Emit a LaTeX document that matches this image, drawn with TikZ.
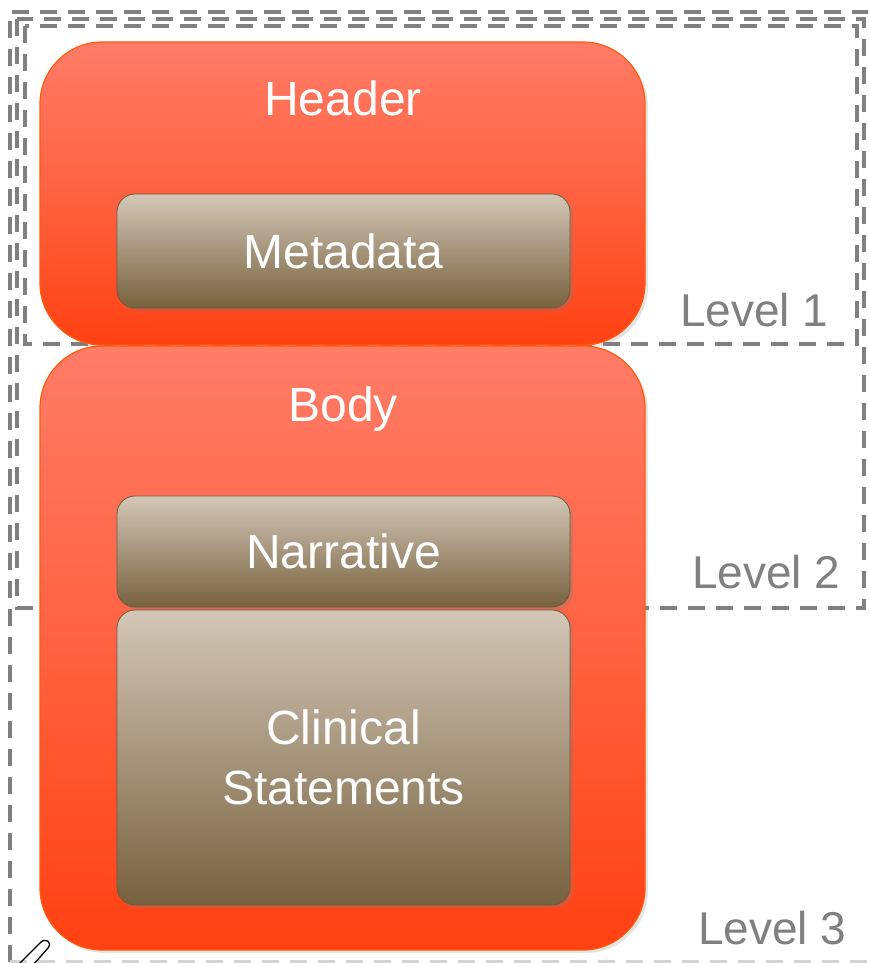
\documentclass[tikz,border=0pt]{standalone}
\usepackage{fontspec}
\setmainfont{Liberation Sans}
\usetikzlibrary{shadows, positioning}
\definecolor{salmon}{HTML}{FF7C67}
\definecolor{redorange}{HTML}{FF4112}
\definecolor{edgeorange}{HTML}{FF5A0A}
\definecolor{sandtop}{HTML}{D4C7B8}
\definecolor{sandbot}{HTML}{77623F}
\definecolor{sandedge}{HTML}{6B5A40}
\definecolor{levelgray}{HTML}{808080}

\begin{document}
\begin{tikzpicture}[x=1pt,y=-1pt,
	outerbox/.style={rounded corners=62pt, top color=salmon, bottom color=redorange, middle color=salmon!55!redorange,
		draw=edgeorange, line width=1.2pt, minimum width=605pt, inner sep=0pt,
		drop shadow={shadow xshift=3pt, shadow yshift=-3pt, opacity=0.22}},
	innerbox/.style={rounded corners=18pt, top color=sandtop, bottom color=sandbot,
		draw=sandedge, line width=0.8pt, minimum width=453pt, inner sep=0pt,
		text=white, align=center, font=\fontsize{48}{60}\selectfont,
		drop shadow={shadow xshift=3pt, shadow yshift=-3pt, opacity=0.3}},
	titletext/.style={text=white, font=\fontsize{48}{50}\selectfont, anchor=base},
	levelbox/.style={draw=levelgray, line width=3.4pt, dash pattern=on 17pt off 11pt},
	levellabel/.style={text=levelgray, font=\fontsize{46}{50}\selectfont, anchor=base east}
	]
	% Fix the page to the size of the picture
	\useasboundingbox (0,0) rectangle (868,963);
	\clip (0,0) rectangle (868,963);
	
	% Dashed frames for the three levels
	\draw[levelbox] (10,962) -- (10,12) -- (880,12);
	\draw[levelbox] (17,19) rectangle (864,608);
	\draw[levelbox] (25,26) rectangle (857,344);
	\draw[levelbox, levelgray!35] (10,962) -- (880,962);
	
	% Header block with metadata
	\node[outerbox, minimum height=303pt] (header) at (342.5,193.5) {};
	\node[titletext] (headertext) at (343,116) {Header};
	\node[innerbox, minimum height=114pt] (metadata) at (343.5,251) {Metadata};
	
	% Body block with narrative and clinical statements
	\node[outerbox, minimum height=604pt] (body) at (342.5,648) {};
	\node[titletext] (bodytext) at (343,421) {Body};
	\node[innerbox, minimum height=111pt] (narrative) at (343.5,551.5) {Narrative};
	\node[innerbox, minimum height=295pt] (clinical) at (343.5,757.5) {Clinical\\Statements};
	
	% Level labels
	\node[levellabel] (level1) at (832,326) {Level 1};
	\node[levellabel] (level2) at (844,588) {Level 2};
	\node[levellabel] (level3) at (850,944) {Level 3};
	
	% Small clip in the corner
	\draw[line width=1.3pt, line cap=round] (19,964) -- (40,943) .. controls (45,937) and (53,942) .. (48,948) -- (34,964);
\end{tikzpicture}
\end{document}
